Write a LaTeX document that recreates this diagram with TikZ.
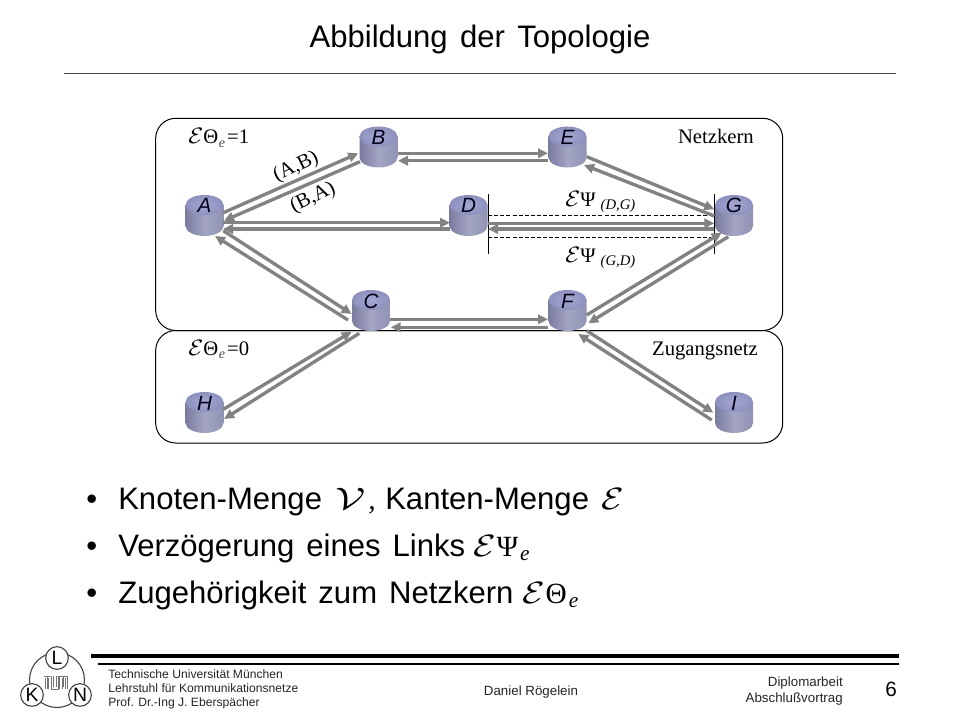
\RequirePackage{fix-cm}
\documentclass[tikz,border=0pt]{standalone}
\usepackage{fontspec}
\usepackage{graphicx}
\setmainfont{Liberation Sans}
\newfontfamily\serifnet{Liberation Serif}
\usetikzlibrary{arrows.meta,calc}
\definecolor{linkgray}{HTML}{828282}
\tikzset{
  x=0.75pt,y=-0.75pt,
  link/.style={draw=linkgray,line width=2.5pt,-{Triangle[length=7.5pt,width=7pt]}},
  netbox/.style={draw=black,line width=0.75pt,rounded corners=15pt},
  nodebox/.style={inner sep=0pt,minimum width=28.5pt,text height=13.5pt,text depth=17.25pt,font=\fontsize{15.5}{16}\selectfont\itshape,text=black!90!blue},
  lbl/.style={inner sep=0pt,anchor=base west,font=\serifnet\fontsize{15.5}{18}\selectfont},
  lblr/.style={lbl,anchor=base east},
  rot/.style={inner sep=0pt,font=\serifnet\fontsize{15.5}{18}\selectfont},
  bigtext/.style={inner sep=0pt,anchor=base west,font=\fontsize{23.3}{28}\selectfont},
  mathtext/.style={inner sep=0pt,anchor=base west,font=\serifnet\fontsize{22}{25}\selectfont},
  foot/.style={inner sep=0pt,anchor=base west,font=\fontsize{9.1}{12}\selectfont,text=black!85},
  footm/.style={inner sep=0pt,font=\fontsize{10}{12}\selectfont,text=black!85},
  footr/.style={footm,anchor=base east},
  logocirc/.style={circle,draw=black!75,fill=white,line width=0.8pt,minimum size=17pt,inner sep=0pt,font=\fontsize{14.5}{15}\selectfont},
  dline/.style={draw=black,line width=0.6pt,dashed,dash pattern=on 3pt off 1.6pt},
  vline/.style={draw=black,line width=0.7pt},
}
\newcommand\cyl[4]{%
  \begin{scope}[shift={(#2,#3)}]
    \shade[left color=cylA,right color=cylB,middle color=cylM]
      (-19,-10.5) -- (-19,10.5) arc[start angle=180,end angle=0,x radius=19,y radius=10] -- (19,-10.5) -- cycle;
    \shade[inner color=cylT,outer color=cylU] (0,-10.5) ellipse[x radius=19,y radius=10];
  \end{scope}
  \node[nodebox] (#1) at (#2,#3) {#4};
}
\definecolor{cylA}{HTML}{7A7C9E}
\definecolor{cylM}{HTML}{A4A5C4}
\definecolor{cylB}{HTML}{9092B4}
\definecolor{cylT}{HTML}{A6A8D2}
\definecolor{cylU}{HTML}{8D8FBD}
\newcommand\lk[6]{\draw[link] ([shift={(#2,#3)}]#1.center) -- ([shift={(#5,#6)}]#4.center);}
\newcommand\Ecal{\ensuremath{\mathcal{E}}}
\newcommand\Ebig{\scalebox{1.25}[1.05]{\Ecal}}
\newcommand\Esm{\scalebox{1.18}[1.08]{\Ecal}}
\newcommand\esub{\raisebox{-3.5pt}{\fontsize{16}{16}\selectfont\itshape e}}
\newcommand\esm{\raisebox{-2.5pt}{\fontsize{10.5}{11}\selectfont\itshape\color{black!70} e}}
\begin{document}
\begin{tikzpicture}
\useasboundingbox (0,0) rectangle (960,720);
\fill[white] (0,0) rectangle (960,720);
% title
\node[bigtext,anchor=base] (title) at (480,47.5) {Abbildung\hspace{0.12em} der\hspace{0.12em} Topologie};
\draw[line width=0.6pt,black!70] (64,73) -- (896,73);
% boxes
\draw[netbox] (155.7,118.3) rectangle (782.7,330.5);
\draw[netbox] (155.7,330.5) rectangle (782.7,443);
% nodes
\cyl{A}{204.5}{215.5}{A}
\cyl{B}{378.5}{147}{B}
\cyl{D}{468.5}{215.5}{D}
\cyl{C}{371}{310.5}{C}
\cyl{E}{567.5}{147}{E}
\cyl{G}{734}{215.5}{G}
\cyl{F}{567.5}{310.5}{F}
\cyl{H}{204.5}{412.5}{H}
\cyl{I}{734}{412.5}{I}
% delay markers
\coordinate (d1) at (488,194);
\coordinate (d2) at (488,254);
\coordinate (g1) at (714.5,194);
\coordinate (g2) at (714.5,254);
\draw[vline] (d1) -- (d2);
\draw[vline] (g1) -- (g2);
\draw[dline] (488,215.3) -- (714.5,215.3);
\draw[dline] (488,237.3) -- (714.5,237.3);
% links
\lk{A}{18.8}{-2.8}{B}{-20.2}{6.3}
\lk{B}{-18.5}{14.7}{A}{19.5}{5.2}
\lk{A}{18.5}{7.2}{D}{-18.5}{7.2}
\lk{D}{-18.5}{13.5}{A}{18.5}{13.5}
\lk{A}{18.8}{15.2}{C}{-19.3}{3.5}
\lk{C}{-23}{9.5}{A}{10.5}{20.5}
\lk{B}{19.5}{6.3}{E}{-19.5}{6.3}
\lk{E}{-19.5}{13.7}{B}{19.5}{13.7}
\lk{E}{19.2}{9.7}{G}{-19.7}{-6.2}
\lk{G}{-19.7}{0.5}{E}{16.5}{18}
\lk{D}{19.5}{7.8}{G}{-19.7}{7.8}
\lk{G}{-19.7}{13.5}{D}{19.5}{13.5}
\lk{G}{-5.7}{21.2}{F}{20.8}{12.8}
\lk{F}{19.2}{4.5}{G}{-12.3}{17.2}
\lk{C}{19}{8.8}{F}{-19.5}{8.8}
\lk{F}{-19.5}{16.8}{C}{19.7}{16.8}
\lk{H}{18.8}{-3.2}{C}{-19.3}{21.2}
\lk{C}{-11.7}{22.8}{H}{19.5}{6.5}
\lk{F}{19.2}{20.2}{I}{-20.7}{0.2}
\lk{I}{-22.3}{7.5}{F}{10.8}{23.5}
% labels
\node[lbl] (t1) at (188,144) {\Esm Θ\hspace{0.5pt}\esm\hspace{1.5pt}=1};
\node[lbl] (t0) at (188,355) {\Esm Θ\hspace{0.5pt}\esm\hspace{1.5pt}=0};
\node[lblr] (nk) at (754,144) {Netzkern};
\node[lblr] (zn) at (758,355) {Zugangsnetz};
\node[rot,rotate=26] (ab) at (296,167) {(A,B)};
\node[rot,rotate=26] (ba) at (313,198) {(B,A)};
\node[lbl] (pdg) at (565,207) {\Esm Ψ \raisebox{-2pt}{\fontsize{11}{12}\selectfont\itshape (D,G)}};
\node[lbl] (pgd) at (565,263) {\Esm Ψ \raisebox{-2pt}{\fontsize{11}{12}\selectfont\itshape (G,D)}};
% bullets
\node[bigtext] (b1) at (86,509) {•};
\node[bigtext] (b2) at (86,556) {•};
\node[bigtext] (b3) at (86,603) {•};
\node[bigtext] (l1) at (118,509) {Knoten-Menge};
\node[bigtext] (v1) at (335,509) {\scalebox{1.4}[1]{$\mathcal{V}$}};
\node[mathtext] (c1) at (368,509) {\itshape ,};
\node[bigtext] (l1b) at (385,509) {Kanten-Menge};
\node[mathtext] (e1) at (601,509) {\Ebig};
\node[bigtext] (l2) at (118,556) {\spaceskip=9pt\relax Verzögerung eines Links};
\node[mathtext] (e2) at (473,556) {\Ebig\hspace{0.5pt}Ψ\hspace{1.5pt}\esub};
\node[bigtext] (l3) at (118,603) {\spaceskip=9pt\relax Zugehörigkeit zum Netzkern};
\node[mathtext] (e3) at (522,603) {\Ebig\hspace{0.5pt}Θ\hspace{1.5pt}\esub};
% footer rules
\draw[line width=3pt,black] (91,656) -- (899,656);
\draw[line width=1.6pt,black] (98,664) -- (899,664);
% logo
\draw[line width=0.8pt,black!75] (57,680) circle[radius=27.5];
\node[logocirc] (L) at (57,658) {L};
\node[logocirc] (K) at (32,695) {K};
\node[logocirc] (N) at (80,695) {N};
\draw[black!55,line width=0.45pt]
  (44,676) -- (50,676) (47,676) -- (47,689) (45.5,678) -- (45.5,689) (48.5,678) -- (48.5,689)
  (51,676) -- (51,689) -- (58,689) -- (58,676) (53,676) -- (53,687) (56,676) -- (56,687)
  (59.5,689) -- (59.5,676) -- (67.5,676) -- (67.5,689) (62,678) -- (62,689) (65,678) -- (65,689) (63.5,676) -- (63.5,687);
% footer text
\node[foot] (f1) at (108,678) {Technische Universität München};
\node[foot] (f2) at (108,692) {Lehrstuhl für Kommunikationsnetze};
\node[foot] (f3) at (108,706) {Prof. Dr.-Ing J. Eberspächer};
\node[footm,anchor=base] (f4) at (531,695) {Daniel Rögelein};
\node[footr] (f5) at (843,686) {Diplomarbeit};
\node[footr] (f6) at (843,702) {Abschlußvortrag};
\node[inner sep=0pt,anchor=base east,font=\fontsize{15.5}{18}\selectfont] (f7) at (897,696) {6};
\end{tikzpicture}
\end{document}
